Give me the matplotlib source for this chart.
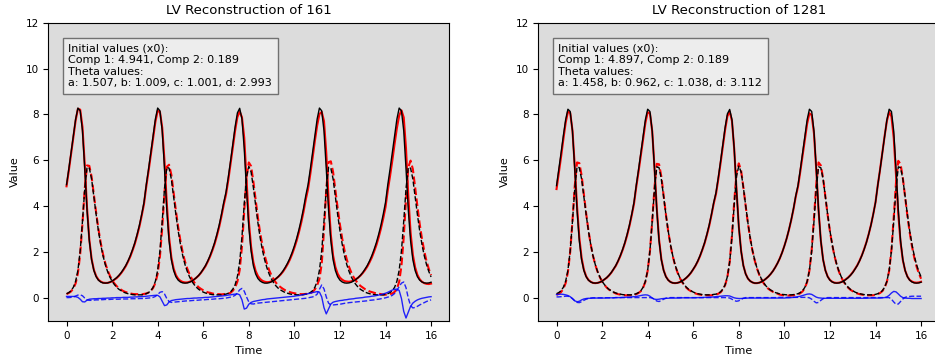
import numpy as np
import matplotlib
matplotlib.use("Agg")
import matplotlib.pyplot as plt

# time axis (161 samples)
time = np.linspace(0, 16, 161)

# ---- left panel (161) : true trajectories ----
true1_161 = [
    4.94, 5.62, 6.35, 7.11, 7.80, 8.28, 8.16, 7.29, 5.64, 3.84,
    2.50, 1.67, 1.20, 0.93, 0.78, 0.70, 0.66, 0.65, 0.66, 0.69,
    0.74, 0.81, 0.89, 0.99, 1.11, 1.26, 1.42, 1.62, 1.85, 2.12,
    2.42, 2.78, 3.18, 3.65, 4.17, 4.94, 5.62, 6.35, 7.11, 7.80,
    8.28, 8.16, 7.29, 5.64, 3.84, 2.50, 1.67, 1.20, 0.93, 0.78,
    0.70, 0.66, 0.65, 0.66, 0.69, 0.74, 0.81, 0.89, 0.99, 1.11,
    1.26, 1.42, 1.62, 1.85, 2.12, 2.42, 2.78, 3.18, 3.65, 4.17,
    4.62, 5.27, 5.98, 6.73, 7.47, 8.07, 8.27, 7.80, 6.50, 4.70,
    3.10, 2.05, 1.41, 1.05, 0.85, 0.74, 0.68, 0.65, 0.65, 0.67,
    0.71, 0.77, 0.85, 0.94, 1.05, 1.18, 1.34, 1.52, 1.73, 1.98,
    2.27, 2.60, 2.98, 3.41, 3.90, 4.46, 4.94, 5.62, 6.35, 7.11,
    7.80, 8.28, 8.16, 7.29, 5.64, 3.84, 2.50, 1.67, 1.20, 0.93,
    0.78, 0.70, 0.66, 0.65, 0.66, 0.69, 0.74, 0.81, 0.89, 0.99,
    1.11, 1.26, 1.42, 1.62, 1.85, 2.12, 2.42, 2.78, 3.18, 3.65,
    4.17, 4.94, 5.62, 6.35, 7.11, 7.80, 8.28, 8.16, 7.29, 5.64,
    3.84, 2.50, 1.67, 1.20, 0.93, 0.78, 0.70, 0.66, 0.65, 0.66,
    0.69,
]
true2_161 = [
    0.19, 0.24, 0.32, 0.47, 0.73, 1.21, 2.06, 3.35, 4.76, 5.70,
    5.66, 5.19, 4.42, 3.64, 2.93, 2.34, 1.85, 1.46, 1.16, 0.92,
    0.73, 0.59, 0.47, 0.38, 0.32, 0.26, 0.22, 0.19, 0.17, 0.15,
    0.14, 0.14, 0.14, 0.14, 0.16, 0.19, 0.24, 0.32, 0.47, 0.73,
    1.21, 2.06, 3.35, 4.76, 5.70, 5.66, 5.19, 4.42, 3.64, 2.93,
    2.34, 1.85, 1.46, 1.16, 0.92, 0.73, 0.59, 0.47, 0.38, 0.32,
    0.26, 0.22, 0.19, 0.17, 0.15, 0.14, 0.14, 0.14, 0.14, 0.16,
    0.17, 0.21, 0.27, 0.39, 0.58, 0.94, 1.58, 2.67, 4.10, 5.30,
    5.74, 5.50, 4.82, 4.04, 3.28, 2.62, 2.08, 1.65, 1.30, 1.03,
    0.82, 0.65, 0.52, 0.42, 0.35, 0.29, 0.24, 0.21, 0.18, 0.16,
    0.15, 0.14, 0.14, 0.14, 0.15, 0.17, 0.19, 0.24, 0.32, 0.47,
    0.73, 1.21, 2.06, 3.35, 4.76, 5.70, 5.66, 5.19, 4.42, 3.64,
    2.93, 2.34, 1.85, 1.46, 1.16, 0.92, 0.73, 0.59, 0.47, 0.38,
    0.32, 0.26, 0.22, 0.19, 0.17, 0.15, 0.14, 0.14, 0.14, 0.14,
    0.16, 0.19, 0.24, 0.32, 0.47, 0.73, 1.21, 2.06, 3.35, 4.76,
    5.70, 5.66, 5.19, 4.42, 3.64, 2.93, 2.34, 1.85, 1.46, 1.16,
    0.92,
]
# blue curves: true - reconstruction
err1_161 = [
    0.07, 0.07, 0.07, 0.07, 0.06, 0.03, -0.05, -0.16, -0.17, -0.09,
    -0.05, -0.04, -0.03, -0.03, -0.02, -0.02, -0.01, -0.01, 0.00, 0.00,
    0.01, 0.01, 0.02, 0.02, 0.02, 0.03, 0.03, 0.03, 0.04, 0.04,
    0.05, 0.05, 0.06, 0.06, 0.07, 0.08, 0.09, 0.10, 0.11, 0.12,
    0.12, 0.05, -0.14, -0.33, -0.30, -0.17, -0.11, -0.09, -0.07, -0.06,
    -0.05, -0.04, -0.03, -0.02, -0.02, -0.01, 0.00, 0.00, 0.01, 0.01,
    0.02, 0.03, 0.03, 0.04, 0.05, 0.06, 0.07, 0.08, 0.09, 0.10,
    0.11, 0.13, 0.14, 0.16, 0.17, 0.18, 0.14, -0.08, -0.48, -0.44,
    -0.27, -0.19, -0.15, -0.13, -0.11, -0.09, -0.07, -0.06, -0.04, -0.03,
    -0.02, -0.01, 0.00, 0.01, 0.02, 0.03, 0.04, 0.05, 0.06, 0.07,
    0.08, 0.10, 0.11, 0.13, 0.15, 0.17, 0.19, 0.21, 0.24, 0.26,
    0.28, 0.26, 0.05, -0.42, -0.69, -0.48, -0.26, -0.18, -0.15, -0.13,
    -0.11, -0.10, -0.08, -0.07, -0.05, -0.04, -0.03, -0.01, 0.00, 0.01,
    0.02, 0.04, 0.05, 0.06, 0.08, 0.09, 0.11, 0.13, 0.15, 0.18,
    0.21, 0.25, 0.30, 0.35, 0.38, 0.39, 0.33, -0.02, -0.58, -0.87,
    -0.62, -0.36, -0.22, -0.14, -0.08, -0.04, -0.01, 0.01, 0.03, 0.05,
    0.06,
]
err2_161 = [
    0.02, 0.02, 0.03, 0.05, 0.09, 0.13, 0.14, 0.10, 0.00, -0.08,
    -0.10, -0.10, -0.09, -0.08, -0.08, -0.07, -0.07, -0.06, -0.06, -0.06,
    -0.05, -0.05, -0.05, -0.05, -0.04, -0.04, -0.04, -0.04, -0.03, -0.03,
    -0.03, -0.03, -0.02, -0.02, -0.02, -0.01, 0.00, 0.01, 0.03, 0.07,
    0.15, 0.25, 0.28, 0.18, -0.02, -0.15, -0.19, -0.18, -0.17, -0.16,
    -0.15, -0.14, -0.13, -0.12, -0.12, -0.11, -0.10, -0.10, -0.09, -0.08,
    -0.08, -0.07, -0.06, -0.06, -0.05, -0.04, -0.03, -0.03, -0.02, -0.01,
    0.00, 0.02, 0.04, 0.07, 0.12, 0.22, 0.36, 0.42, 0.30, 0.05,
    -0.17, -0.25, -0.26, -0.24, -0.22, -0.21, -0.20, -0.19, -0.18, -0.17,
    -0.16, -0.15, -0.14, -0.13, -0.12, -0.11, -0.10, -0.09, -0.08, -0.07,
    -0.06, -0.05, -0.04, -0.03, -0.02, -0.01, 0.01, 0.03, 0.05, 0.09,
    0.17, 0.38, 0.57, 0.40, 0.05, -0.22, -0.30, -0.30, -0.29, -0.28,
    -0.27, -0.25, -0.23, -0.22, -0.20, -0.19, -0.18, -0.17, -0.16, -0.15,
    -0.14, -0.13, -0.12, -0.10, -0.09, -0.08, -0.06, -0.05, -0.03, -0.01,
    0.01, 0.04, 0.07, 0.12, 0.20, 0.33, 0.50, 0.65, 0.70, 0.45,
    0.00, -0.33, -0.43, -0.41, -0.36, -0.30, -0.25, -0.20, -0.15, -0.11,
    -0.08,
]

# ---- right panel (1281) ----
true1_1281 = [
    4.90, 5.60, 6.33, 7.08, 7.77, 8.23, 8.13, 7.27, 5.63, 3.84,
    2.50, 1.67, 1.20, 0.93, 0.78, 0.70, 0.66, 0.65, 0.66, 0.69,
    0.74, 0.81, 0.89, 0.99, 1.11, 1.26, 1.42, 1.62, 1.85, 2.12,
    2.42, 2.78, 3.18, 3.65, 4.17, 4.92, 5.60, 6.33, 7.08, 7.77,
    8.23, 8.13, 7.27, 5.63, 3.84, 2.50, 1.67, 1.20, 0.93, 0.78,
    0.70, 0.66, 0.65, 0.66, 0.69, 0.74, 0.81, 0.89, 0.99, 1.11,
    1.26, 1.42, 1.62, 1.85, 2.12, 2.42, 2.78, 3.18, 3.65, 4.17,
    4.60, 5.25, 5.96, 6.71, 7.44, 8.03, 8.22, 7.77, 6.49, 4.70,
    3.10, 2.05, 1.41, 1.05, 0.85, 0.74, 0.68, 0.65, 0.65, 0.67,
    0.71, 0.77, 0.85, 0.94, 1.05, 1.18, 1.34, 1.52, 1.73, 1.98,
    2.27, 2.60, 2.98, 3.41, 3.90, 4.46, 4.92, 5.60, 6.33, 7.08,
    7.77, 8.23, 8.13, 7.27, 5.63, 3.84, 2.50, 1.67, 1.20, 0.93,
    0.78, 0.70, 0.66, 0.65, 0.66, 0.69, 0.74, 0.81, 0.89, 0.99,
    1.11, 1.26, 1.42, 1.62, 1.85, 2.12, 2.42, 2.78, 3.18, 3.65,
    4.17, 4.92, 5.60, 6.33, 7.08, 7.77, 8.23, 8.13, 7.27, 5.63,
    3.84, 2.50, 1.67, 1.20, 0.93, 0.78, 0.70, 0.66, 0.65, 0.66,
    0.69,
]
true2_1281 = [
    0.19, 0.24, 0.32, 0.47, 0.73, 1.21, 2.06, 3.35, 4.76, 5.72,
    5.68, 5.19, 4.42, 3.64, 2.93, 2.34, 1.85, 1.46, 1.16, 0.92,
    0.73, 0.59, 0.47, 0.38, 0.32, 0.26, 0.22, 0.19, 0.17, 0.15,
    0.14, 0.14, 0.14, 0.14, 0.16, 0.19, 0.24, 0.32, 0.47, 0.73,
    1.21, 2.06, 3.35, 4.76, 5.72, 5.68, 5.19, 4.42, 3.64, 2.93,
    2.34, 1.85, 1.46, 1.16, 0.92, 0.73, 0.59, 0.47, 0.38, 0.32,
    0.26, 0.22, 0.19, 0.17, 0.15, 0.14, 0.14, 0.14, 0.14, 0.16,
    0.17, 0.21, 0.27, 0.39, 0.58, 0.94, 1.58, 2.67, 4.10, 5.32,
    5.75, 5.50, 4.82, 4.04, 3.28, 2.62, 2.08, 1.65, 1.30, 1.03,
    0.82, 0.65, 0.52, 0.42, 0.35, 0.29, 0.24, 0.21, 0.18, 0.16,
    0.15, 0.14, 0.14, 0.14, 0.15, 0.17, 0.19, 0.24, 0.32, 0.47,
    0.73, 1.21, 2.06, 3.35, 4.76, 5.72, 5.68, 5.19, 4.42, 3.64,
    2.93, 2.34, 1.85, 1.46, 1.16, 0.92, 0.73, 0.59, 0.47, 0.38,
    0.32, 0.26, 0.22, 0.19, 0.17, 0.15, 0.14, 0.14, 0.14, 0.14,
    0.16, 0.19, 0.24, 0.32, 0.47, 0.73, 1.21, 2.06, 3.35, 4.76,
    5.72, 5.68, 5.19, 4.42, 3.64, 2.93, 2.34, 1.85, 1.46, 1.16,
    0.92,
]
err1_1281 = [
    0.15, 0.16, 0.17, 0.16, 0.14, 0.11, 0.06, -0.03, -0.12, -0.16,
    -0.14, -0.08, -0.04, -0.02, -0.01, -0.01, 0.00, 0.00, 0.00, 0.00,
    0.00, 0.00, 0.01, 0.01, 0.01, 0.01, 0.02, 0.02, 0.02, 0.03,
    0.03, 0.04, 0.04, 0.05, 0.06, 0.07, 0.09, 0.11, 0.13, 0.14,
    0.13, 0.08, 0.00, -0.05, -0.06, -0.05, -0.03, -0.02, -0.01, -0.01,
    0.00, 0.00, 0.00, 0.00, 0.00, 0.01, 0.01, 0.01, 0.01, 0.01,
    0.01, 0.01, 0.02, 0.02, 0.02, 0.03, 0.03, 0.04, 0.04, 0.05,
    0.06, 0.07, 0.08, 0.09, 0.10, 0.10, 0.09, 0.05, 0.01, -0.01,
    -0.02, -0.02, -0.01, -0.01, 0.00, 0.00, 0.00, 0.00, 0.00, 0.00,
    0.00, 0.00, 0.00, 0.00, 0.00, 0.00, 0.00, 0.00, 0.00, 0.00,
    0.00, 0.01, 0.01, 0.02, 0.03, 0.04, 0.06, 0.08, 0.11, 0.14,
    0.17, 0.18, 0.16, 0.10, 0.04, 0.01, 0.00, -0.01, -0.01, -0.01,
    -0.01, -0.01, -0.01, -0.01, -0.01, -0.01, -0.01, -0.01, -0.01, -0.01,
    -0.01, -0.01, -0.01, -0.01, -0.01, -0.01, -0.01, 0.00, 0.00, 0.00,
    0.00, 0.00, 0.00, 0.01, 0.02, 0.05, 0.12, 0.22, 0.29, 0.27,
    0.18, 0.08, 0.02, 0.00, -0.01, -0.01, -0.02, -0.02, -0.02, -0.02,
    -0.02,
]
err2_1281 = [
    0.05, 0.05, 0.06, 0.07, 0.08, 0.08, 0.05, -0.02, -0.12, -0.19,
    -0.20, -0.16, -0.10, -0.05, -0.02, 0.00, 0.01, 0.01, 0.01, 0.01,
    0.01, 0.01, 0.01, 0.01, 0.01, 0.01, 0.02, 0.02, 0.02, 0.02,
    0.02, 0.02, 0.02, 0.02, 0.02, 0.02, 0.02, 0.02, 0.02, 0.02,
    0.02, 0.02, 0.00, -0.06, -0.13, -0.15, -0.11, -0.05, -0.01, 0.01,
    0.02, 0.02, 0.02, 0.02, 0.02, 0.02, 0.02, 0.02, 0.02, 0.02,
    0.02, 0.02, 0.02, 0.02, 0.02, 0.02, 0.02, 0.02, 0.02, 0.02,
    0.02, 0.02, 0.02, 0.02, 0.02, 0.02, 0.00, -0.05, -0.11, -0.14,
    -0.12, -0.06, -0.01, 0.02, 0.02, 0.02, 0.02, 0.02, 0.02, 0.02,
    0.02, 0.02, 0.02, 0.02, 0.02, 0.02, 0.02, 0.02, 0.03, 0.03,
    0.03, 0.03, 0.03, 0.03, 0.03, 0.03, 0.03, 0.03, 0.03, 0.03,
    0.03, 0.01, -0.05, -0.14, -0.21, -0.19, -0.10, -0.03, 0.01, 0.02,
    0.02, 0.02, 0.02, 0.02, 0.02, 0.02, 0.02, 0.02, 0.02, 0.02,
    0.02, 0.02, 0.02, 0.02, 0.02, 0.02, 0.02, 0.02, 0.02, 0.02,
    0.02, 0.02, 0.02, 0.02, 0.02, 0.02, 0.02, -0.05, -0.17, -0.27,
    -0.26, -0.15, -0.04, 0.03, 0.06, 0.07, 0.08, 0.08, 0.08, 0.08,
    0.08,
]

panels = [
    ("LV Reconstruction of 161", true1_161, true2_161, err1_161, err2_161,
     "Initial values (x0):\nComp 1: 4.941, Comp 2: 0.189\nTheta values:\n"
     "a: 1.507, b: 1.009, c: 1.001, d: 2.993"),
    ("LV Reconstruction of 1281", true1_1281, true2_1281, err1_1281, err2_1281,
     "Initial values (x0):\nComp 1: 4.897, Comp 2: 0.189\nTheta values:\n"
     "a: 1.458, b: 0.962, c: 1.038, d: 3.112"),
]

W, H = 935, 358
fig = plt.figure(figsize=(W / 100, H / 100), dpi=100)
ax_left_px = [48.3, 538.3]
ax_w_px = 401.0
ax_top_px, ax_bot_px = 22.7, 321.0

for i, (title, tr1, tr2, e1, e2, txt) in enumerate(panels):
    ax = fig.add_axes([ax_left_px[i] / W, 1 - ax_bot_px / H,
                       ax_w_px / W, (ax_bot_px - ax_top_px) / H])
    ax.set_facecolor("#dcdcdc")
    tr1 = np.array(tr1); tr2 = np.array(tr2)
    e1 = np.array(e1); e2 = np.array(e2)
    rec1 = tr1 - e1
    rec2 = tr2 - e2
    ax.plot(time, rec1, color="red", lw=1.5)
    ax.plot(time, rec2, color="red", lw=1.5, ls="--")
    ax.plot(time, tr1, color="black", lw=1.0)
    ax.plot(time, tr2, color="black", lw=1.0, ls="--")
    ax.plot(time, e1, color="blue", lw=1.0, alpha=0.85)
    ax.plot(time, e2, color="blue", lw=1.0, alpha=0.85, ls="--")
    ax.set_ylim(-1, 12)
    ax.set_yticks([0, 2, 4, 6, 8, 10, 12])
    ax.set_xticks([0, 2, 4, 6, 8, 10, 12, 14, 16])
    ax.tick_params(labelsize=7.5)
    ax.set_title(title, fontsize=9.5)
    ax.set_xlabel("Time", fontsize=8)
    ax.set_ylabel("Value", fontsize=8)
    ax.text(0.05, 0.93, txt, transform=ax.transAxes, va="top", ha="left",
            fontsize=8, linespacing=1.2,
            bbox=dict(facecolor="white", alpha=0.5))

fig.savefig("out.png", dpi=100)
